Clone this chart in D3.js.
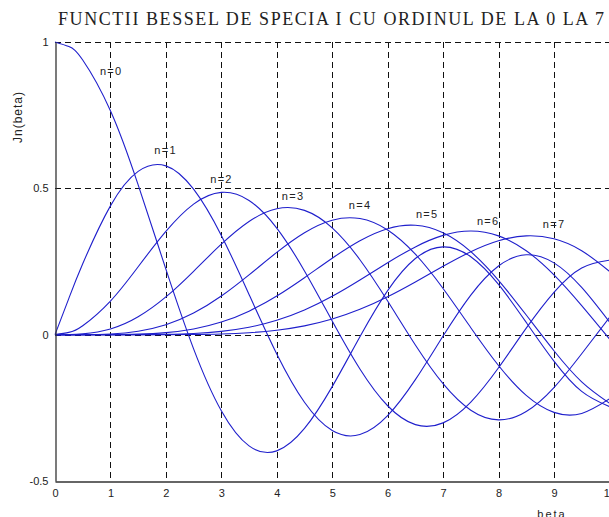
<!DOCTYPE html>
<html>
<head>
<meta charset="utf-8">
<script src="https://cdn.jsdelivr.net/npm/d3@7"></script>
<style>
  html, body { margin: 0; padding: 0; background: #fff; overflow: hidden; }
  svg { display: block; }
</style>
</head>
<body>
<script>
// Bessel functions of the first kind, orders 0..7, tabulated over beta
const beta = [0, 0.25, 0.5, 1, 1.5, 2, 2.5, 3, 3.5, 4, 4.5, 5, 5.5, 6, 6.5, 7, 7.5, 8, 8.5, 9, 9.5, 10];

const j0 = [1, 0.9844, 0.9385, 0.7652, 0.5118, 0.2239, -0.0484, -0.2601, -0.3801, -0.3971, -0.3205, -0.1776, -0.0069, 0.1506, 0.2601, 0.3001, 0.2663, 0.1717, 0.0419, -0.0903, -0.1939, -0.2459];
const j1 = [0, 0.1240, 0.2423, 0.4401, 0.5579, 0.5767, 0.4971, 0.3391, 0.1374, -0.0660, -0.2311, -0.3276, -0.3414, -0.2767, -0.1538, -0.0047, 0.1352, 0.2346, 0.2731, 0.2453, 0.1613, 0.0435];
const j2 = [0, 0.0078, 0.0306, 0.1149, 0.2321, 0.3528, 0.4461, 0.4861, 0.4586, 0.3641, 0.2178, 0.0466, -0.1173, -0.2429, -0.3074, -0.3014, -0.2303, -0.1130, 0.0223, 0.1448, 0.2279, 0.2546];
const j3 = [0, 0.0003, 0.0026, 0.0196, 0.0610, 0.1289, 0.2166, 0.3091, 0.3868, 0.4302, 0.4247, 0.3648, 0.2561, 0.1148, -0.0353, -0.1676, -0.2581, -0.2911, -0.2626, -0.1809, -0.0653, 0.0584];
const j4 = [0, 0.0000, 0.0002, 0.0025, 0.0118, 0.0340, 0.0738, 0.1320, 0.2044, 0.2811, 0.3484, 0.3912, 0.3967, 0.3576, 0.2748, 0.1578, 0.0238, -0.1054, -0.2077, -0.2655, -0.2691, -0.2196];
const j5 = [0, 0.0000, 0.0000, 0.0002, 0.0018, 0.0070, 0.0195, 0.0430, 0.0804, 0.1321, 0.1947, 0.2611, 0.3209, 0.3621, 0.3736, 0.3479, 0.2835, 0.1858, 0.0671, -0.0550, -0.1613, -0.2341];
const j6 = [0, 0.0000, 0.0000, 0.0000, 0.0002, 0.0012, 0.0042, 0.0114, 0.0254, 0.0491, 0.0843, 0.1310, 0.1867, 0.2458, 0.2999, 0.3392, 0.3541, 0.3376, 0.2867, 0.2043, 0.0993, -0.0145];
const j7 = [0, 0.0000, 0.0000, 0.0000, 0.0000, 0.0002, 0.0008, 0.0025, 0.0067, 0.0152, 0.0300, 0.0534, 0.0865, 0.1296, 0.1801, 0.2336, 0.2832, 0.3206, 0.3376, 0.3275, 0.2868, 0.2167];

const orders = ["n=0", "n=1", "n=2", "n=3", "n=4", "n=5", "n=6", "n=7"];
// where each order's name sits, in data units
const labelBeta = [0.81, 1.79, 2.80, 4.09, 5.30, 6.51, 7.61, 8.80];
const labelJ = [0.90, 0.632, 0.530, 0.475, 0.444, 0.413, 0.389, 0.376];

const xTicks = [0, 1, 2, 3, 4, 5, 6, 7, 8, 9, 10];
const yTicks = [-0.5, 0, 0.5, 1];
const yTickText = ["-0.5", "0", "0.5", "1"];

const W = 609, H = 517;
const series = [j0, j1, j2, j3, j4, j5, j6, j7];

const x = d3.scaleLinear().domain([0, 10]).range([55, 609.4]);
const y = d3.scaleLinear().domain([-0.5, 1]).range([481, 42]);

const svg = d3.select("body").append("svg")
  .attr("width", W).attr("height", H)
  .attr("viewBox", `0 0 ${W} ${H}`);

const sans = "'Liberation Sans', Arial, sans-serif";
const ink = "#222";

// dashed grid
const grid = svg.append("g").attr("stroke", "#111").attr("stroke-width", 1)
  .attr("stroke-dasharray", "6,4").attr("fill", "none");
grid.selectAll("line.v").data(xTicks.filter(d => d > 0)).join("line")
  .attr("class", "v")
  .attr("x1", d => Math.round(x(d)) + 0.5).attr("x2", d => Math.round(x(d)) + 0.5)
  .attr("y1", y(1)).attr("y2", y(-0.5));
grid.selectAll("line.h").data(yTicks.filter(d => d > -0.5)).join("line")
  .attr("class", "h")
  .attr("x1", x(0)).attr("x2", x(10))
  .attr("y1", d => Math.round(y(d)) + 0.5).attr("y2", d => Math.round(y(d)) + 0.5);

// curves
const line = d3.line()
  .x((d, i) => x(beta[i]))
  .y(d => y(d))
  .curve(d3.curveNatural);

svg.append("g")
  .selectAll("path").data(series).join("path")
  .attr("d", d => line(d))
  .attr("fill", "none")
  .attr("stroke", "#1f1fcc")
  .attr("stroke-width", 1.1);

// axes
const xAxis = d3.axisBottom(x).tickValues(xTicks).tickSize(0).tickPadding(8);
const yAxis = d3.axisLeft(y).tickValues(yTicks).tickSize(0).tickPadding(7)
  .tickFormat((d, i) => yTickText[i]);

const gx = svg.append("g").attr("transform", `translate(0,${Math.round(y(-0.5)) + 0.5})`).call(xAxis);
const gy = svg.append("g").attr("transform", `translate(${Math.round(x(0)) + 0.5},0)`).call(yAxis);
[gx, gy].forEach(g => {
  g.select(".domain").attr("stroke", "#333").attr("stroke-width", 1.3);
  g.selectAll("text").attr("font-family", sans).attr("font-size", 11).attr("fill", ink);
});

// order names
svg.append("g").selectAll("text").data(orders).join("text")
  .attr("x", (d, i) => x(labelBeta[i]))
  .attr("y", (d, i) => y(labelJ[i]))
  .attr("dy", "0.35em")
  .attr("font-family", sans).attr("font-size", 11)
  .attr("letter-spacing", 1.3)
  .attr("fill", ink)
  .text(d => d);

// title
svg.append("text")
  .attr("x", 331).attr("y", 25)
  .attr("text-anchor", "middle")
  .attr("font-family", "'Liberation Serif', 'Times New Roman', serif")
  .attr("font-size", 18)
  .attr("textLength", 546).attr("lengthAdjust", "spacing")
  .attr("fill", ink)
  .text("FUNCTII BESSEL DE SPECIA I CU ORDINUL DE LA 0 LA 7");

// axis titles
svg.append("text")
  .attr("transform", "translate(22,117) rotate(-90)")
  .attr("text-anchor", "middle")
  .attr("font-family", sans).attr("font-size", 12)
  .attr("letter-spacing", 1)
  .attr("fill", ink)
  .text("Jn(beta)");

svg.append("text")
  .attr("x", 552).attr("y", 518)
  .attr("text-anchor", "middle")
  .attr("font-family", sans).attr("font-size", 11)
  .attr("letter-spacing", 2)
  .attr("fill", ink)
  .text("beta");
</script>
</body>
</html>
